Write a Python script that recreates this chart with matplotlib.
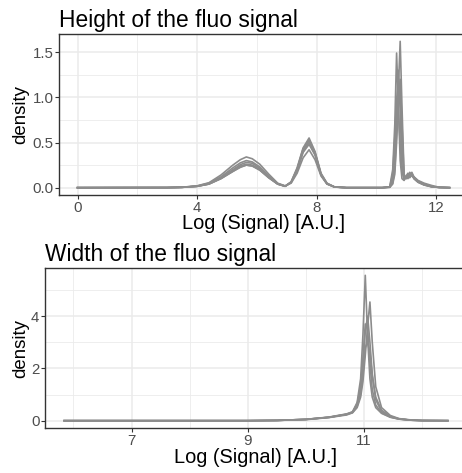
import matplotlib
matplotlib.use("Agg")
import matplotlib.pyplot as plt
from matplotlib.ticker import MultipleLocator

plt.rcParams['font.family'] = ['Liberation Sans', 'DejaVu Sans']

# --- height panel: shared x grid, one y list per sample
height_x = [0, 3.0, 3.5, 4.0, 4.4, 4.8, 5.2, 5.45, 5.65, 5.85, 6.1, 6.4, 6.7, 6.95,
            7.15, 7.35, 7.55, 7.75, 7.95, 8.15, 8.35, 8.6, 9.0, 10.2,
            10.45, 10.55, 10.62, 10.68, 10.74, 10.8, 10.86, 10.93, 11.0, 11.06,
            11.12, 11.19, 11.26, 11.4, 11.6, 11.85, 12.1, 12.45]

height_a = [0, 0.001, 0.004, 0.015, 0.04, 0.10, 0.18, 0.225, 0.25, 0.24, 0.195, 0.11, 0.04, 0.015,
            0.06, 0.20, 0.42, 0.53, 0.38, 0.15, 0.045, 0.008, 0, 0,
            0.005, 0.05, 0.20, 0.60, 1.10, 1.62, 0.90, 0.15, 0.10, 0.15,
            0.12, 0.16, 0.10, 0.06, 0.03, 0.01, 0.003, 0]
height_b = [0, 0.001, 0.005, 0.02, 0.055, 0.14, 0.25, 0.31, 0.34, 0.32, 0.26, 0.15, 0.05, 0.02,
            0.05, 0.16, 0.33, 0.42, 0.31, 0.13, 0.04, 0.007, 0, 0,
            0.01, 0.20, 0.70, 1.49, 0.90, 0.30, 0.10, 0.08, 0.12, 0.10,
            0.17, 0.14, 0.12, 0.08, 0.05, 0.025, 0.005, 0]
height_c = [0, 0.001, 0.005, 0.018, 0.05, 0.12, 0.22, 0.275, 0.30, 0.285, 0.23, 0.13, 0.045, 0.018,
            0.065, 0.22, 0.44, 0.55, 0.40, 0.16, 0.05, 0.009, 0, 0,
            0.008, 0.10, 0.40, 0.95, 1.30, 0.85, 0.25, 0.10, 0.13, 0.16,
            0.12, 0.15, 0.11, 0.07, 0.035, 0.012, 0.003, 0]
height_d = [0, 0.001, 0.004, 0.016, 0.045, 0.11, 0.20, 0.255, 0.28, 0.27, 0.215, 0.12, 0.042, 0.016,
            0.06, 0.19, 0.40, 0.50, 0.37, 0.14, 0.042, 0.008, 0, 0,
            0.006, 0.08, 0.30, 0.80, 1.10, 1.00, 0.45, 0.12, 0.11, 0.14,
            0.13, 0.17, 0.12, 0.07, 0.035, 0.012, 0.003, 0]
height_e = [0, 0.001, 0.004, 0.015, 0.042, 0.105, 0.19, 0.24, 0.26, 0.25, 0.20, 0.115, 0.04, 0.015,
            0.062, 0.21, 0.43, 0.52, 0.39, 0.15, 0.045, 0.008, 0, 0,
            0.004, 0.04, 0.15, 0.50, 0.95, 1.20, 0.70, 0.14, 0.10, 0.13,
            0.11, 0.14, 0.10, 0.06, 0.03, 0.01, 0.003, 0]
height_f = [0, 0.001, 0.004, 0.015, 0.04, 0.10, 0.18, 0.23, 0.25, 0.24, 0.195, 0.11, 0.04, 0.016,
            0.058, 0.19, 0.39, 0.48, 0.36, 0.14, 0.043, 0.008, 0, 0,
            0.01, 0.15, 0.55, 1.00, 0.85, 0.50, 0.18, 0.09, 0.12, 0.11,
            0.15, 0.13, 0.11, 0.07, 0.04, 0.015, 0.004, 0]
height_curves = [height_a, height_b, height_c, height_d, height_e, height_f]
height_xticks = [0, 4, 8, 12]
height_yticks = [0, 0.5, 1.0, 1.5]
height_yticklabels = ['0.0', '0.5', '1.0', '1.5']

# --- width panel
width_x = [5.84, 9.0, 9.5, 10.0, 10.4, 10.7, 10.8, 10.88, 10.94, 10.98, 11.02, 11.06,
           11.1, 11.14, 11.2, 11.3, 11.45, 11.6, 11.8, 12.0, 12.44]

width_a = [0, 0, 0.01, 0.05, 0.13, 0.25, 0.33, 0.70, 1.60, 3.30, 5.56, 3.20,
           1.60, 0.90, 0.50, 0.28, 0.13, 0.06, 0.02, 0.005, 0]
width_b = [0, 0, 0.01, 0.04, 0.12, 0.22, 0.30, 0.50, 0.90, 1.50, 2.50, 3.60,
           4.54, 3.00, 1.30, 0.50, 0.20, 0.08, 0.03, 0.005, 0]
width_c = [0, 0, 0.01, 0.05, 0.13, 0.24, 0.32, 0.60, 1.20, 2.20, 3.40, 4.00,
           3.00, 1.80, 0.80, 0.35, 0.15, 0.07, 0.02, 0.005, 0]
width_d = [0, 0, 0.01, 0.05, 0.14, 0.26, 0.34, 0.65, 1.30, 2.40, 3.70, 3.50,
           2.20, 1.20, 0.60, 0.30, 0.14, 0.06, 0.02, 0.005, 0]
width_e = [0, 0, 0.01, 0.05, 0.13, 0.24, 0.31, 0.55, 1.00, 1.80, 2.80, 3.00,
           2.60, 1.70, 0.90, 0.40, 0.17, 0.07, 0.02, 0.005, 0]
width_curves = [width_a, width_b, width_c, width_d, width_e]
width_xticks = [7, 9, 11]
width_yticks = [0, 2, 4]

LINE_COL = '#8c8c8c'


def style_axes(ax, title, ylab_x, xlab_y):
    ax.set_facecolor('white')
    for s in ax.spines.values():
        s.set_color('#333333')
        s.set_linewidth(1.0)
    ax.grid(True, which='major', color='#ebebeb', linewidth=1.1)
    ax.grid(True, which='minor', color='#ebebeb', linewidth=0.6)
    ax.set_axisbelow(True)
    ax.tick_params(which='major', length=3, width=0.8, color='#333333',
                   labelsize=10.8, labelcolor='#4d4d4d', pad=1)
    ax.tick_params(which='minor', length=0)
    ax.set_title(title, loc='left', fontsize=16.4, color='black', pad=5)
    ax.set_xlabel("Log (Signal) [A.U.]", fontsize=14.4)
    ax.set_ylabel("density", fontsize=13.4)
    ax.yaxis.set_label_coords(ylab_x, 0.5)
    ax.xaxis.set_label_coords(0.5, xlab_y)


fig = plt.figure(figsize=(4.62, 4.73), dpi=100)

# top panel (right edge runs slightly past the picture, as in the original)
ax1 = fig.add_axes([59 / 462, 1 - 195 / 473, 409 / 462, 161 / 473])
for ys in height_curves:
    ax1.plot(height_x, ys, color=LINE_COL, linewidth=1.2)
ax1.set_xlim(-0.62, 13.07)
ax1.set_ylim(-0.081, 1.701)
ax1.set_xticks(height_xticks)
ax1.xaxis.set_minor_locator(MultipleLocator(2))
ax1.set_yticks(height_yticks)
ax1.set_yticklabels(height_yticklabels)
ax1.yaxis.set_minor_locator(MultipleLocator(0.25))
style_axes(ax1, "Height of the fluo signal", -30 / 409, -19 / 161)

ax2 = fig.add_axes([45 / 462, 1 - 428 / 473, 422 / 462, 160 / 473])
for ys in width_curves:
    ax2.plot(width_x, ys, color=LINE_COL, linewidth=1.2)
ax2.set_xlim(5.51, 12.77)
ax2.set_ylim(-0.28, 5.84)
ax2.set_xticks(width_xticks)
ax2.xaxis.set_minor_locator(MultipleLocator(1))
ax2.set_yticks(width_yticks)
ax2.yaxis.set_minor_locator(MultipleLocator(1))
style_axes(ax2, "Width of the fluo signal", -16 / 422, -20 / 160)

fig.savefig("out.png", dpi=100)
